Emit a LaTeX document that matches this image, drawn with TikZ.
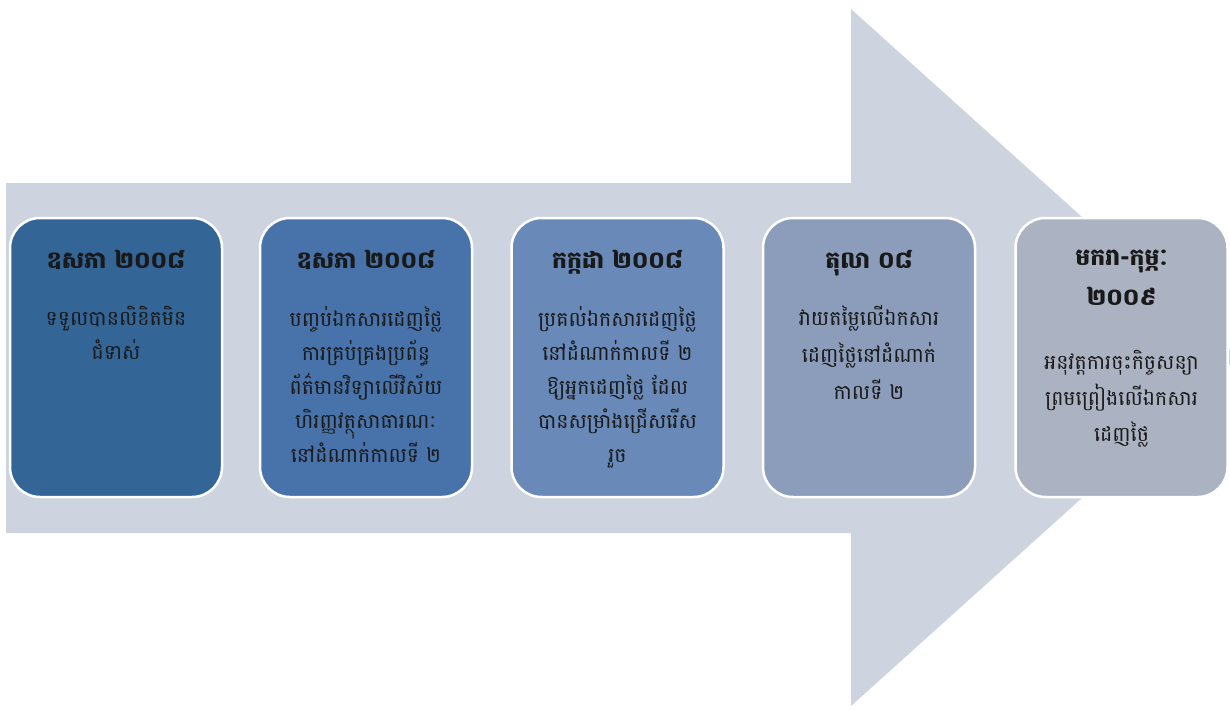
\documentclass[tikz,border=0pt]{standalone}
\usepackage{fontspec}
\newfontfamily\khmer[Script=Khmer]{Battambang}
\definecolor{arrowfill}{RGB}{205,212,223}
\definecolor{stageA}{RGB}{52,101,151}
\definecolor{stageB}{RGB}{72,115,170}
\definecolor{stageC}{RGB}{105,138,184}
\definecolor{stageD}{RGB}{139,157,186}
\definecolor{stageE}{RGB}{171,178,194}
\definecolor{inktext}{RGB}{25,25,25}
\tikzset{
  stagebox/.style={draw=white, line width=2.5pt, rounded corners=30pt,
    minimum width=212pt, minimum height=279pt, inner sep=0pt},
  stagehead/.style={font=\khmer\bfseries\fontsize{23.5}{40}\selectfont, text=inktext,
    align=center, anchor=north, inner sep=0pt},
  stagebody/.style={font=\khmer\fontsize{20.5}{34}\selectfont, text=inktext,
    align=center, anchor=north, inner sep=0pt}
}
\begin{document}
\begin{tikzpicture}[x=1pt,y=-1pt]
  \useasboundingbox (0,0) rectangle (1230,709);
  \begin{scope}
    \clip (0,0) rectangle (1230,709);
    % broad timeline arrow
    \fill[arrowfill] (6,183) -- (851,183) -- (851,9) -- (1238,357.5)
      -- (851,706) -- (851,533) -- (6,533) -- cycle;
  \end{scope}
  % stage boxes
  \node[stagebox, fill=stageA] (s1) at (116,357.5) {};
  \node[stagebox, fill=stageB] (s2) at (366,357.5) {};
  \node[stagebox, fill=stageC] (s3) at (617.5,357.5) {};
  \node[stagebox, fill=stageD] (s4) at (869,357.5) {};
  \node[stagebox, fill=stageE] (s5) at (1121.5,357.5) {};
  % headings
  \node[stagehead] (h1) at (116,250) {ឧសភា ២០០៨};
  \node[stagehead] (h2) at (366,250) {ឧសភា ២០០៨};
  \node[stagehead] (h3) at (617.5,250) {កក្កដា ២០០៨};
  \node[stagehead] (h4) at (869,250) {តុលា ០៨};
  \node[stagehead] (h5) at (1121.5,250) {មករា-កុម្ភៈ\\២០០៩};
  % descriptions
  \node[stagebody] (b1) at (116,306) {ទទួលបានលិខិតមិន\\ជំទាស់};
  \node[stagebody] (b2) at (366,306) {បញ្ចប់ឯកសារដេញថ្លៃ\\ការគ្រប់គ្រងប្រព័ន្ធ\\ព័ត៌មានវិទ្យាលើវិស័យ\\ហិរញ្ញវត្ថុសាធារណៈ\\នៅដំណាក់កាលទី ២};
  \node[stagebody] (b3) at (617.5,306) {ប្រគល់ឯកសារដេញថ្លៃ\\នៅដំណាក់កាលទី ២\\ឱ្យអ្នកដេញថ្លៃ ដែល\\បានសម្រាំងជ្រើសរើស\\រួច};
  \node[stagebody, font=\khmer\fontsize{20.5}{37}\selectfont] (b4) at (869,305)
    {វាយតម្លៃលើឯកសារ\\ដេញថ្លៃនៅដំណាក់\\កាលទី ២};
  \node[stagebody, font=\khmer\fontsize{20.5}{36}\selectfont] (b5) at (1121.5,350)
    {អនុវត្តការចុះកិច្ចសន្យា\\ព្រមព្រៀងលើឯកសារ\\ដេញថ្លៃ};
\end{tikzpicture}
\end{document}
